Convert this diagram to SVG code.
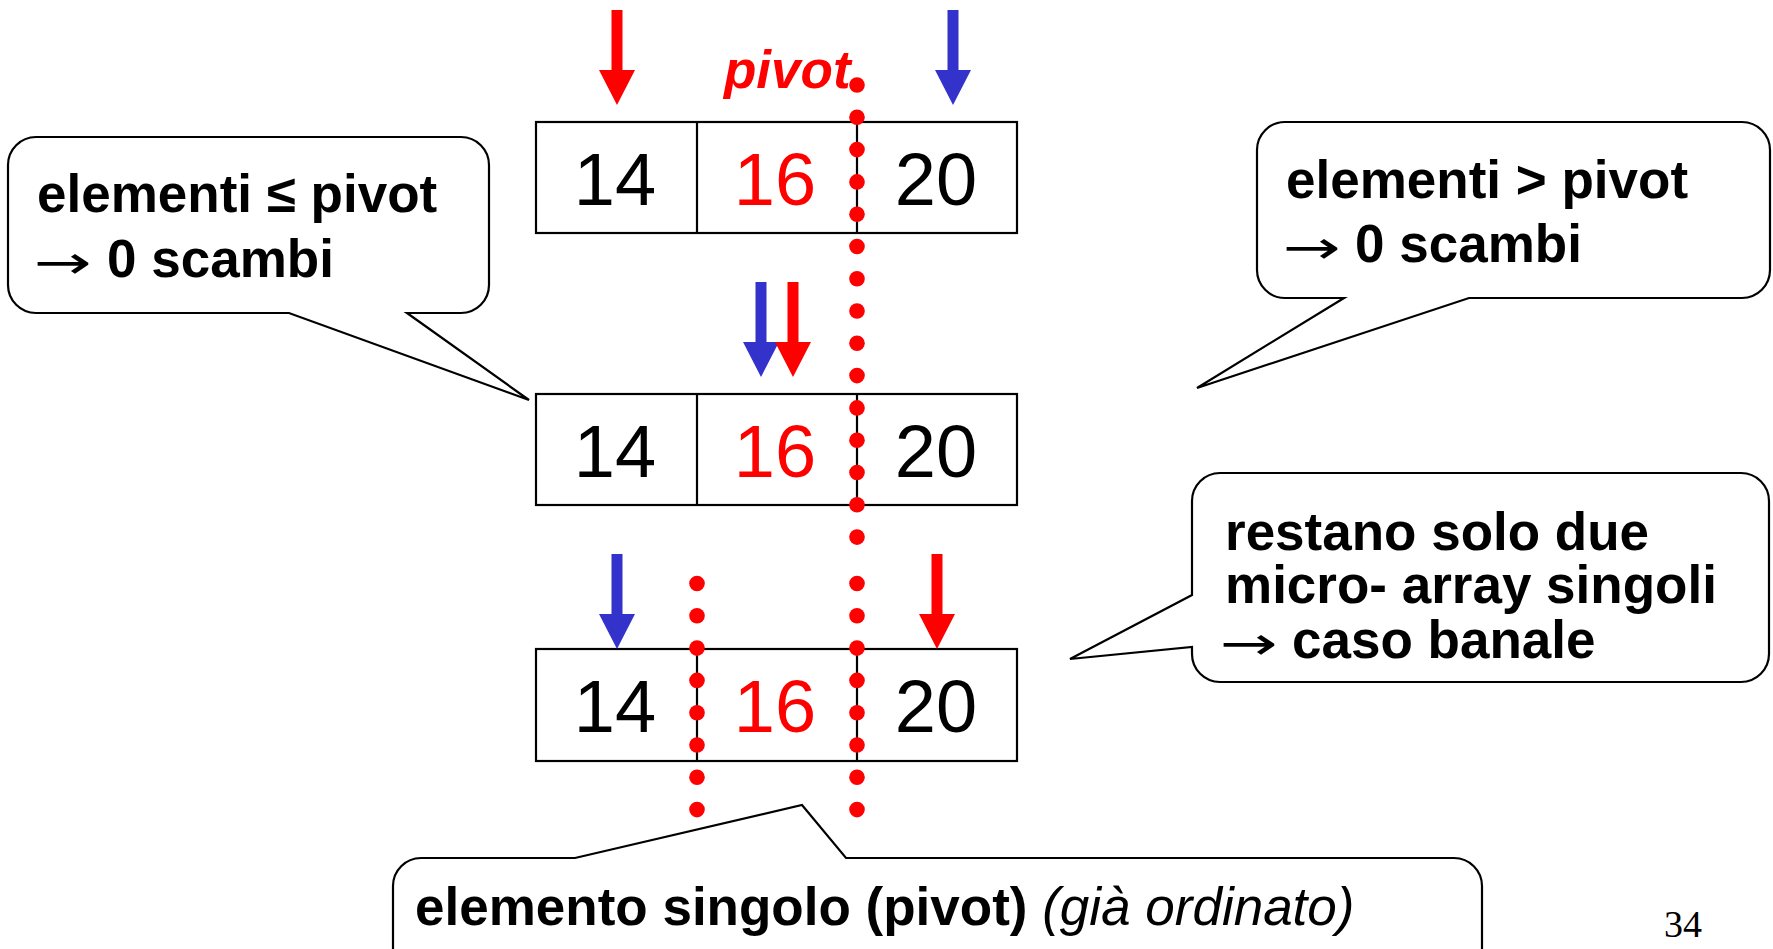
<svg xmlns="http://www.w3.org/2000/svg" xmlns:xlink="http://www.w3.org/1999/xlink" width="1773" height="949" viewBox="0 0 1773 949">
<style>
.bg{fill:#ffffff}
.box{fill:none;stroke:#000;stroke-width:2.2}
.div{stroke:#000;stroke-width:2.2}
.num{font-family:"Liberation Sans",Arial,sans-serif;font-size:74px;text-anchor:middle}
.blk{fill:#000}
.red{fill:#FF0000}
.blue{fill:#3333CC}
.dot{fill:#FF0000}
.call{fill:#fff;stroke:#000;stroke-width:2.2;stroke-linejoin:miter}
.ct{font-family:"Liberation Sans",Arial,sans-serif;font-size:53px;font-weight:bold;fill:#000}
.ar{font-family:"DejaVu Sans",sans-serif;font-weight:normal;font-size:46px;fill:#000}
.it{font-weight:normal;font-style:italic}
.pv{font-family:"Liberation Sans",Arial,sans-serif;font-size:53px;font-weight:bold;font-style:italic;fill:#FF0000}
.pg{font-family:"Liberation Serif","Times New Roman",serif;font-size:38px;fill:#000}
</style>
<defs>
<path id="arr" d="M-5.5,0 H5.5 V60 H18 L0,95 L-18,60 H-5.5 Z"/>
</defs>
<rect class="bg" x="0" y="0" width="1773" height="949"/>

<g id="callout-left">
<path class="call" d="M36,137 H461 A28,28 0 0 1 489,165 V285 A28,28 0 0 1 461,313 H407 L529,400 L289,313 H36 A28,28 0 0 1 8,285 V165 A28,28 0 0 1 36,137 Z"/>
<text class="ct" x="37" y="212">elementi ≤ pivot</text>
<text class="ar" x="34" y="278" textLength="58" lengthAdjust="spacingAndGlyphs">→</text>
<text class="ct" x="107" y="277">0 scambi</text>
</g>

<g id="callout-right">
<path class="call" d="M1285,122 H1742 A28,28 0 0 1 1770,150 V270 A28,28 0 0 1 1742,298 H1469 L1197,388 L1344,298 H1285 A28,28 0 0 1 1257,270 V150 A28,28 0 0 1 1285,122 Z"/>
<text class="ct" x="1286" y="198">elementi &gt; pivot</text>
<text class="ar" x="1283" y="263" textLength="58" lengthAdjust="spacingAndGlyphs">→</text>
<text class="ct" x="1355" y="262">0 scambi</text>
</g>

<g id="callout-micro">
<path class="call" d="M1220,473 H1741 A28,28 0 0 1 1769,501 V654 A28,28 0 0 1 1741,682 H1220 A28,28 0 0 1 1192,654 V647 L1070,659 L1192,595 V501 A28,28 0 0 1 1220,473 Z"/>
<text class="ct" x="1225" y="550">restano solo due</text>
<text class="ct" x="1225" y="603">micro- array singoli</text>
<text class="ar" x="1220" y="659" textLength="58" lengthAdjust="spacingAndGlyphs">→</text>
<text class="ct" x="1292" y="658">caso banale</text>
</g>

<g id="callout-bottom">
<path class="call" d="M421,858 H575 L802,805 L846,858 H1454 A28,28 0 0 1 1482,886 V975 H393 V886 A28,28 0 0 1 421,858 Z"/>
<text class="ct" x="415" y="925">elemento singolo (pivot) <tspan class="it">(già ordinato)</tspan></text>
</g>

<g id="array1">
<rect class="box" x="536" y="122" width="481" height="111"/>
<line class="div" x1="697" y1="122" x2="697" y2="233"/>
<line class="div" x1="857" y1="122" x2="857" y2="233"/>
<text class="num blk" x="615" y="205">14</text>
<text class="num red" x="775" y="205">16</text>
<text class="num blk" x="936" y="205">20</text>
</g>

<g id="array2">
<rect class="box" x="536" y="394" width="481" height="111"/>
<line class="div" x1="697" y1="394" x2="697" y2="505"/>
<line class="div" x1="857" y1="394" x2="857" y2="505"/>
<text class="num blk" x="615" y="477">14</text>
<text class="num red" x="775" y="477">16</text>
<text class="num blk" x="936" y="477">20</text>
</g>

<g id="array3">
<rect class="box" x="536" y="649" width="481" height="112"/>
<line class="div" x1="697" y1="649" x2="697" y2="761"/>
<line class="div" x1="857" y1="649" x2="857" y2="761"/>
<text class="num blk" x="615" y="732">14</text>
<text class="num red" x="775" y="732">16</text>
<text class="num blk" x="936" y="732">20</text>
</g>

<g id="pivot-label">
<text class="pv" x="724" y="88">pivot</text>
</g>

<g id="connectors">
<use xlink:href="#arr" href="#arr" class="red" transform="translate(617,10)"/>
<use xlink:href="#arr" href="#arr" class="blue" transform="translate(953,10)"/>
<use xlink:href="#arr" href="#arr" class="blue" transform="translate(761,282)"/>
<use xlink:href="#arr" href="#arr" class="red" transform="translate(793,282)"/>
<use xlink:href="#arr" href="#arr" class="blue" transform="translate(617,554)"/>
<use xlink:href="#arr" href="#arr" class="red" transform="translate(937,554)"/>
<g class="dot">
<circle cx="857" cy="85" r="7.8"/><circle cx="857" cy="117.3" r="7.8"/><circle cx="857" cy="149.6" r="7.8"/><circle cx="857" cy="181.9" r="7.8"/><circle cx="857" cy="214.2" r="7.8"/><circle cx="857" cy="246.5" r="7.8"/><circle cx="857" cy="278.7" r="7.8"/><circle cx="857" cy="311" r="7.8"/><circle cx="857" cy="343.3" r="7.8"/><circle cx="857" cy="375.6" r="7.8"/><circle cx="857" cy="407.9" r="7.8"/><circle cx="857" cy="440.2" r="7.8"/><circle cx="857" cy="472.5" r="7.8"/><circle cx="857" cy="504.8" r="7.8"/><circle cx="857" cy="537.1" r="7.8"/>
<circle cx="857" cy="583.5" r="7.8"/><circle cx="857" cy="615.8" r="7.8"/><circle cx="857" cy="648.1" r="7.8"/><circle cx="857" cy="680.4" r="7.8"/><circle cx="857" cy="712.7" r="7.8"/><circle cx="857" cy="745" r="7.8"/><circle cx="857" cy="777.3" r="7.8"/><circle cx="857" cy="809.6" r="7.8"/>
<circle cx="697" cy="583.5" r="7.8"/><circle cx="697" cy="615.8" r="7.8"/><circle cx="697" cy="648.1" r="7.8"/><circle cx="697" cy="680.4" r="7.8"/><circle cx="697" cy="712.7" r="7.8"/><circle cx="697" cy="745" r="7.8"/><circle cx="697" cy="777.3" r="7.8"/><circle cx="697" cy="809.6" r="7.8"/>
</g>
</g>

<text class="pg" x="1664" y="937">34</text>
</svg>
